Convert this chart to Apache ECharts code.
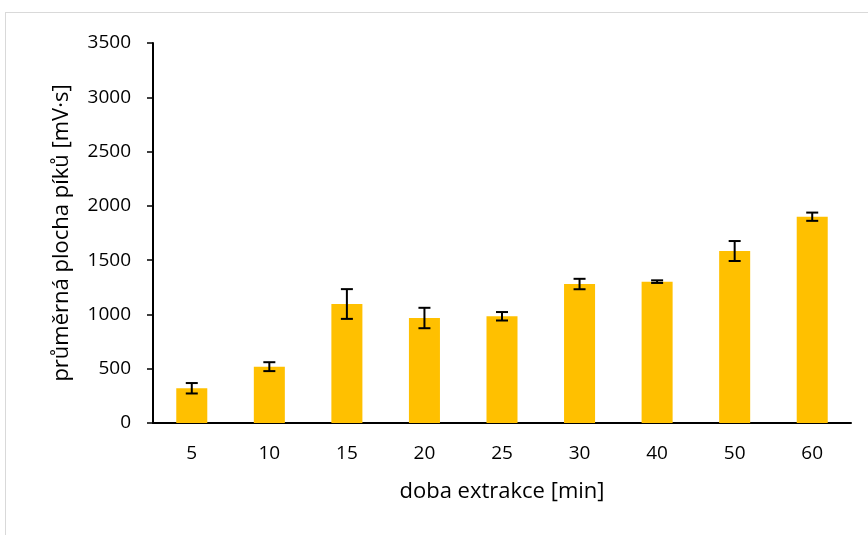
<!DOCTYPE html>
<html>
<head>
<meta charset="utf-8">
<script src="https://cdn.jsdelivr.net/npm/echarts@6/dist/echarts.min.js"></script>
<style>
  html, body { margin: 0; padding: 0; background: #fff; }
  #chart { width: 868px; height: 535px; }
  #frame { position: absolute; left: 5px; top: 12px; width: 880px; height: 540px; border: 1px solid #d9d9d9; box-sizing: border-box; pointer-events: none; }
</style>
</head>
<body>
<div id="frame"></div>
<div id="chart"></div>
<script>
// extraction time [min]
const categories = ['5', '10', '15', '20', '25', '30', '40', '50', '60'];
// mean peak area [mV·s]
const meanArea = [320, 519, 1096, 967, 983, 1280, 1302, 1584, 1900];
// standard deviation
const stdDev = [48, 41, 137, 94, 39, 48, 12, 92, 38];
const yTicks = { min: 0, max: 3500, interval: 500 };

const font = 'Open Sans, Liberation Sans, sans-serif';
const chart = echarts.init(document.getElementById('chart'), null, { renderer: 'canvas' });

const errorData = categories.map((c, i) => [i, meanArea[i] - stdDev[i], meanArea[i] + stdDev[i]]);

chart.setOption({
  animation: false,
  grid: { left: 153, right: 17, top: 43, bottom: 112 },
  xAxis: {
    type: 'category',
    data: categories,
    name: 'doba extrakce [min]',
    nameLocation: 'middle',
    nameGap: 58,
    nameTextStyle: { fontFamily: font, fontSize: 22, color: '#000' },
    axisLine: { lineStyle: { color: '#000', width: 2 } },
    axisTick: { show: false },
    axisLabel: { fontFamily: font, fontSize: 19, color: '#000', margin: 21 }
  },
  yAxis: {
    type: 'value',
    min: yTicks.min, max: yTicks.max, interval: yTicks.interval,
    name: 'průměrná plocha píků [mV·s]',
    nameLocation: 'middle',
    nameGap: 80,
    nameMoveOverlap: false,
    nameTextStyle: { fontFamily: font, fontSize: 22, color: '#000' },
    axisLine: { show: true, lineStyle: { color: '#000', width: 2 } },
    axisTick: { show: true, length: 6, inside: false, lineStyle: { color: '#000', width: 1.5 } },
    axisLabel: { fontFamily: font, fontSize: 19, color: '#000', margin: 22, formatter: v => String(v) },
    splitLine: { show: false }
  },
  series: [
    {
      type: 'bar',
      data: meanArea,
      barWidth: '40%',
      itemStyle: { color: '#FFC000' }
    },
    {
      type: 'custom',
      data: errorData,
      z: 10,
      renderItem: function (params, api) {
        const x = api.value(0);
        const lo = api.coord([x, api.value(1)]);
        const hi = api.coord([x, api.value(2)]);
        const half = 6;
        const style = { stroke: '#000', lineWidth: 2 };
        return {
          type: 'group',
          children: [
            { type: 'line', shape: { x1: lo[0], y1: lo[1], x2: hi[0], y2: hi[1] }, style },
            { type: 'line', shape: { x1: lo[0] - half, y1: lo[1], x2: lo[0] + half, y2: lo[1] }, style },
            { type: 'line', shape: { x1: hi[0] - half, y1: hi[1], x2: hi[0] + half, y2: hi[1] }, style }
          ]
        };
      }
    }
  ]
});
</script>
</body>
</html>
